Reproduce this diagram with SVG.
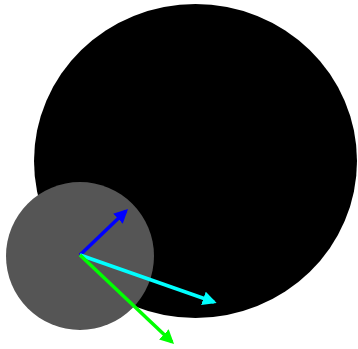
<svg xmlns="http://www.w3.org/2000/svg" width="358" height="349" viewBox="0 0 358 349">
<style>
.v{stroke-width:3.5;fill:none}
</style>
<defs>
<marker id="hb" viewBox="0 0 10 10" refX="8" refY="5" markerWidth="4" markerHeight="4" orient="auto" markerUnits="strokeWidth"><path d="M0,0L10,5L0,10z" fill="#0000ff"/></marker>
<marker id="hc" viewBox="0 0 10 10" refX="8" refY="5" markerWidth="4" markerHeight="4" orient="auto" markerUnits="strokeWidth"><path d="M0,0L10,5L0,10z" fill="#00ffff"/></marker>
<marker id="hg" viewBox="0 0 10 10" refX="8" refY="5" markerWidth="4" markerHeight="4" orient="auto" markerUnits="strokeWidth"><path d="M0,0L10,5L0,10z" fill="#00ff00"/></marker>
</defs>
<rect width="358" height="349" fill="#ffffff"/>
<g id="big"><ellipse cx="195.5" cy="161" rx="161.5" ry="157" fill="#000000"/></g>
<g id="small"><circle cx="80" cy="256" r="74" fill="#555555"/></g>
<g id="connectors">
<line class="v" x1="80" y1="255" x2="126" y2="211" stroke="#0000ff" marker-end="url(#hb)"/>
<line class="v" x1="80" y1="255" x2="214" y2="302" stroke="#00ffff" marker-end="url(#hc)"/>
<line class="v" x1="80" y1="255" x2="172" y2="342" stroke="#00ff00" marker-end="url(#hg)"/>
</g>
</svg>
